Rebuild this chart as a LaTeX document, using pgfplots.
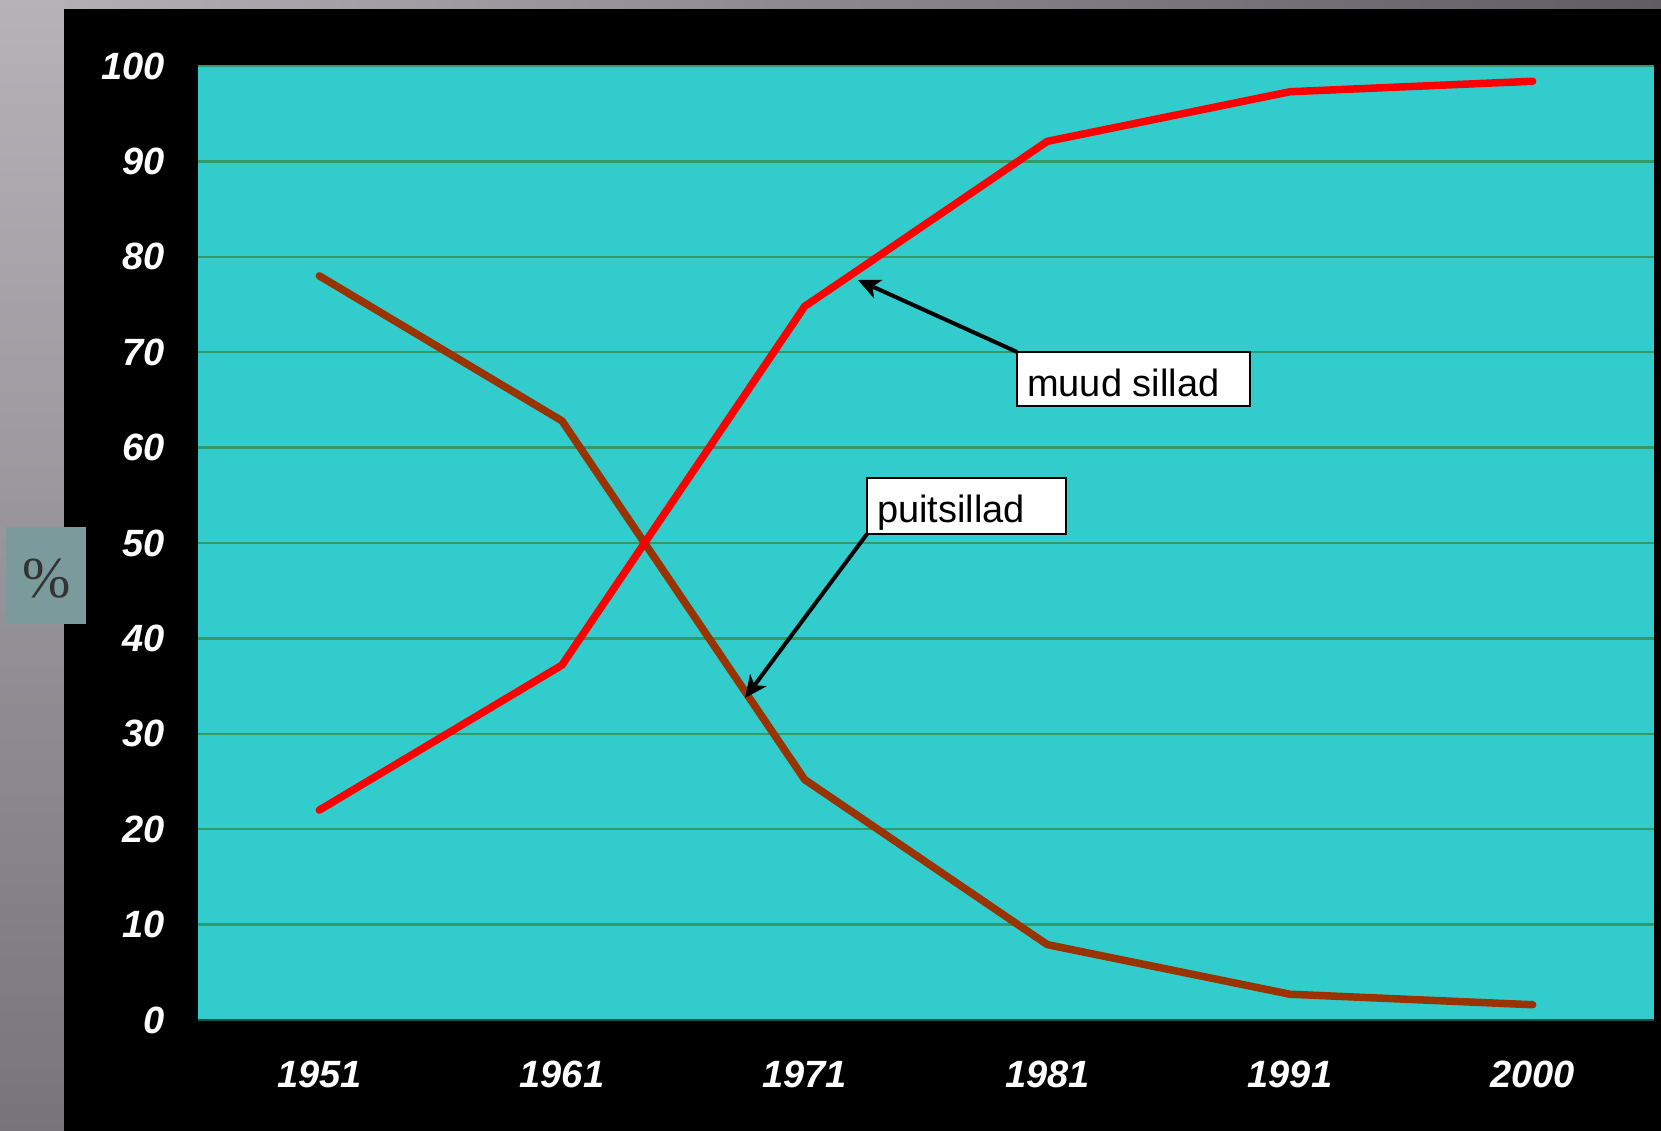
\documentclass[border=0pt]{standalone}
\usepackage{fontspec}
\setmainfont{Liberation Sans}
\newfontfamily\seriffont{Liberation Serif}
\usepackage{pgfplots}
\pgfplotsset{compat=1.18}
\usetikzlibrary{arrows.meta}
\definecolor{plotbg}{HTML}{33CCCC}
\definecolor{gridgreen}{HTML}{339966}
\definecolor{woodbrown}{HTML}{993300}
\definecolor{pctbox}{HTML}{7B9A9C}
\definecolor{grayL}{HTML}{B5B3B8}
\definecolor{grayR}{HTML}{5F5D63}
\definecolor{grayB}{HTML}{77757B}
\begin{document}
\begin{tikzpicture}[x=1pt,y=1pt]
\useasboundingbox (0,0) rectangle (1661,1131);
% background
\shade[left color=grayL, right color=grayR] (0,0) rectangle (1661,1131);
\shade[top color=grayL, bottom color=grayB] (0,0) rectangle (64,1131);
\fill[black] (64,0) rectangle (1661,1122);
% percent box
\fill[pctbox] (6,507) rectangle (86,604);
\node[text=black!80, font=\seriffont\fontsize{58}{62}\selectfont] at (47,552) {\%};
\begin{axis}[
  at={(198pt,111pt)}, anchor=south west,
  scale only axis, width=1456pt, height=954pt,
  xmin=-0.5, xmax=5.5, ymin=0, ymax=100,
  axis background/.style={fill=plotbg},
  axis line style={draw=none},
  major tick length=0pt,
  xtick={0,1,2,3,4,5},
  xticklabels={1951,1961,1971,1981,1991,2000},
  ytick={0,10,...,100},
  ymajorgrids, grid style={gridgreen, line width=2.5pt},
  /pgf/number format/assume math mode=true,
  ticklabel style={text=white, font=\fontsize{38}{40}\selectfont\bfseries\itshape, inner sep=0pt},
  yticklabel style={anchor=east, xshift=-33pt},
  xticklabel style={anchor=north, yshift=-41pt},
  clip=false,
]
\draw[black!60!plotbg, line width=1.5pt] (axis cs:-0.5,0) -- (axis cs:5.5,0);
\addplot[woodbrown, line width=7.5pt, line cap=round, line join=round] coordinates {
 (0,78.0) (1,62.8) (2,25.2) (3,7.9) (4,2.7) (5,1.6)};
\addplot[red, line width=7.5pt, line cap=round, line join=round] coordinates {
 (0,22.0) (1,37.2) (2,74.8) (3,92.1) (4,97.3) (5,98.4)};
\end{axis}
% annotations
\draw[line width=4pt, -{Stealth[length=22pt, width=20pt, inset=6pt]}] (1017,779) -- (858,851);
\draw[line width=4pt, -{Stealth[length=22pt, width=20pt, inset=6pt]}] (867,597) -- (745,433);
\filldraw[fill=white, draw=black, line width=2pt] (1017,725) rectangle (1250,779);
\node[anchor=base west, inner sep=0pt, font=\fontsize{38}{40}\selectfont] at (1027,734) {muud sillad};
\filldraw[fill=white, draw=black, line width=2pt] (867,597) rectangle (1066,653);
\node[anchor=base west, inner sep=0pt, font=\fontsize{38}{40}\selectfont] at (877,608) {puitsillad};
\end{tikzpicture}
\end{document}
